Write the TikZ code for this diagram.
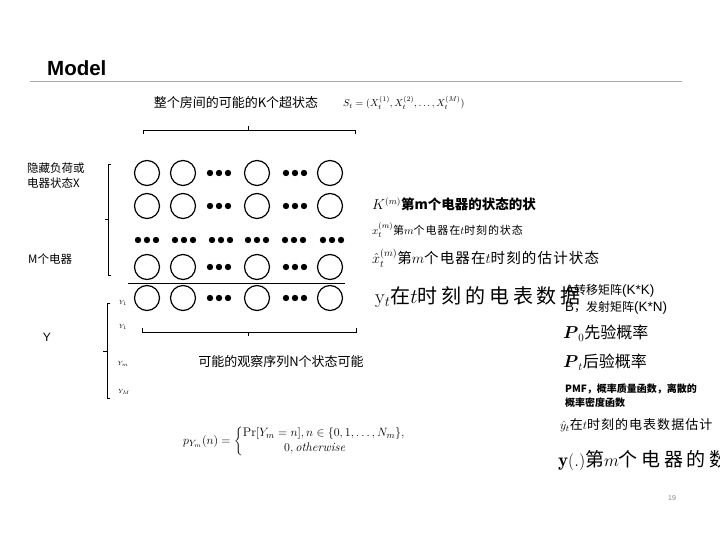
\documentclass[tikz,border=0pt]{standalone}
\usepackage{amsmath}
\usepackage{fontspec}
\setsansfont{Liberation Sans}
\newfontfamily\cjk{Noto Sans CJK SC}
\newfontfamily\cjksp{Noto Sans CJK SC}[LetterSpace=8]
\newfontfamily\cjkwide{Noto Sans CJK SC}[LetterSpace=19]
\tikzset{
  circ/.style={circle, draw, line width=1.2pt, minimum size=25pt, inner sep=0pt},
  brk/.style={line width=0.8pt},
  lbl/.style={anchor=west, inner sep=0pt},
}
\newcommand\fsz[1]{\fontsize{#1}{#1}\selectfont}
\begin{document}
\begin{tikzpicture}[x=1pt,y=-1pt]
\useasboundingbox (0,0) rectangle (720,540);
\clip (0,0) rectangle (720,540);

% title and rule
\node[lbl, font=\sffamily\bfseries\fsz{20.5}] (title) at (47,68) {Model};
\draw[gray!70, line width=1pt] (30,82) -- (682,82);

% top caption
\node[font=\cjk\fsz{13}] (topcap) at (236,103) {整个房间的可能的K个超状态};
\node[lbl, font=\fsz{10}] (stform) at (343,103) {$S_t=(X_t^{(1)},X_t^{(2)},\dots,X_t^{(M)})$};

% top bracket
\draw[brk] (143,134) -- (143,130) -- (355,130) -- (355,134);
\draw[brk] (248,130) -- (248,126);

% circles
\foreach \r/\yy in {1/173,2/206,4/267,5/298}{
  \foreach \c/\xx in {1/147,2/183,3/257,4/330}{
    \node[circ] (c\r\c) at (\xx,\yy) {};
  }
  \foreach \xx in {219,295}{
    \foreach \d in {-9,0,9}{ \fill (\xx+\d,\yy) circle (3.2pt); }
  }
}
\foreach \xx in {147,184,221,257,294,332}{
  \foreach \d in {-9,0,9}{ \fill (\xx+\d,240) circle (3.2pt); }
}
\draw[line width=0.8pt] (128,283) -- (345,283);

% X bracket and labels
\draw[brk] (111,164) -- (108,164) -- (108,275) -- (111,275);
\draw[brk] (108,219) -- (105,219);
\node[lbl, align=left, font=\cjk\fontsize{11.5}{15}\selectfont] (xlab) at (27,176) {隐藏负荷或\\电器状态X};
\node[lbl, font=\cjk\fsz{11.5}] (mlab) at (28,259) {M个电器};

% Y bracket and labels
\draw[brk] (110,303) -- (107,303) -- (107,398) -- (110,398);
\draw[brk] (107,351) -- (103,351);
\node[font=\sffamily\fsz{12}] (ylab) at (47,337) {Y};
\node[font=\fsz{6}] (y1a) at (123,303) {$Y_1$};
\node[font=\fsz{6}] (y1b) at (123,327) {$Y_1$};
\node[font=\fsz{6}] (ym) at (123,364) {$Y_m$};
\node[font=\fsz{6}] (yM) at (124,392) {$Y_M$};

% bottom bracket
\draw[brk] (142,328) -- (142,332) -- (356,332) -- (356,328);
\draw[brk] (248,332) -- (248,336);
\node[font=\cjk\fsz{13}] (botcap) at (281,362) {可能的观察序列N个状态可能};

% right texts
\node[lbl, font=\fsz{13.5}] (t1) at (372,204) {$K^{(m)}$\cjk\bfseries 第m个电器的状态的状};
\node[lbl, font=\fsz{11}] (t2) at (372,230) {$x_t^{(m)}$\cjksp 第$m$个电器在$t$时刻的状态};
\node[lbl, font=\fsz{14.5}] (t3) at (372,258) {$\hat{x}_t^{(m)}$\cjksp 第$m$个电器在$t$时刻的估计状态};
\node[lbl, font=\fsz{20}] (t4) at (375,297) {$\mathrm{y}_t$\cjkwide 在$t$时刻的电表数据};
\node[lbl, font=\sffamily\fsz{13.5}] (ta) at (565,291) {A{\cjk\fsz{12}转移矩阵}(K*K)};
\node[lbl, font=\sffamily\fsz{13.5}] (tb) at (565,308) {B{\cjk\fsz{12}，发射矩阵}(K*N)};
\node[lbl, font=\fsz{16}] (tp0) at (563,333) {$\boldsymbol{P}_{0}$\cjk 先验概率};
\node[lbl, font=\fsz{16}] (tpt) at (563,362) {$\boldsymbol{P}_{t}$\cjk 后验概率};
\node[lbl, align=left, font=\cjk\bfseries\fontsize{10}{14}\selectfont] (pmf) at (565,396) {PMF，概率质量函数，离散的\\概率密度函数};
\node[lbl, font=\fsz{13}] (tyh) at (560,425) {$\hat{y}_t$\cjksp 在$t$时刻的电表数据估计};
\node[lbl, font=\fsz{19}] (tyf) at (558,461) {$\mathbf{y}(.)$\cjkwide 第$m$个电器的数};

% formula
\node[lbl, font=\fsz{12.5}] (form) at (183,441) {$p_{Y_m}(n)=\begin{cases}\Pr[Y_m=n],n\in\{0,1,\dots,N_m\},\\ \hspace{3.3em}0,\mathit{otherwise}\end{cases}$};

% page number
\node[font=\sffamily\fsz{7}, text=gray] (pg) at (672,498) {19};
\end{tikzpicture}
\end{document}
